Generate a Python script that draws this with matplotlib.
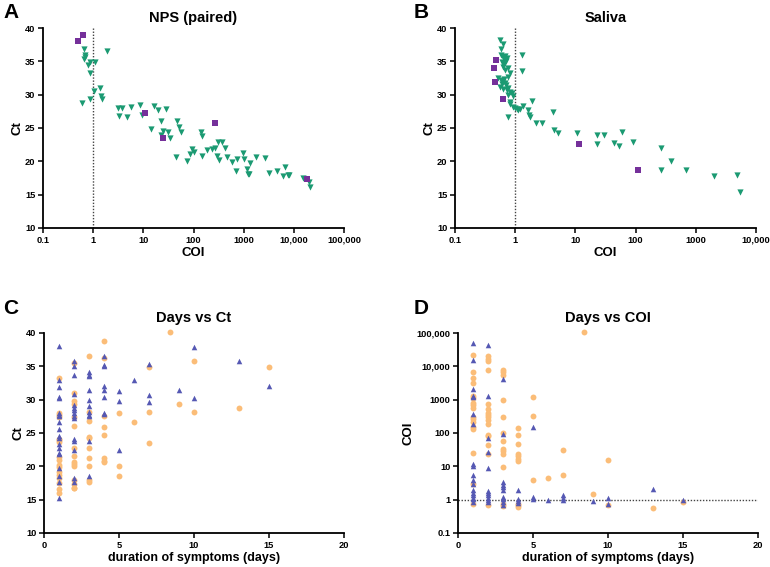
import matplotlib
matplotlib.use("Agg")
import matplotlib.pyplot as plt
import numpy as np
from matplotlib.ticker import FixedLocator, FixedFormatter, NullLocator

plt.rcParams['font.family'] = ['Liberation Sans', 'DejaVu Sans']
plt.rcParams['font.weight'] = 'bold'

# ---------------- Panel A: NPS (paired) ----------------
a_green_coi = [0.67, 1.89, 0.69, 0.69, 0.67, 0.88, 1.07, 0.80, 0.88, 1.03, 1.39, 1.43, 1.47, 0.60, 0.88,
               3.17, 3.81, 5.67, 8.57, 16.3, 19.3, 27.9, 3.32, 4.8, 9.6, 14.0, 22.5, 47.5, 51.4, 56.4,
               24.7, 31.5, 34.5, 23.0, 139, 146, 303, 365, 91.8, 102, 86.5, 186, 237, 268, 44.8, 74,
               146, 290, 322, 459, 420,
               577, 747, 955, 1000, 1337, 1738, 2661, 692, 1183, 1200, 1295, 3200, 4620, 6670, 6170,
               7530, 8110, 15400, 20300, 20900]
a_green_ct = [36.8, 36.5, 35.9, 35.65, 35.4, 34.9, 34.9, 34.4, 33.2, 30.6, 31.0, 29.8, 29.4, 28.8, 29.3,
              28.0, 28.0, 28.15, 28.45, 28.35, 27.75, 27.85, 26.85, 26.65, 26.95, 24.9, 26.05, 26.1, 25.15, 24.35,
              24.55, 24.35, 23.55, 24.0, 24.35, 23.75, 22.85, 22.85, 21.8, 21.35, 21.1, 21.75, 21.85, 22.05, 20.7, 20.1,
              20.8, 20.8, 20.2, 20.6, 22.0,
              19.97, 20.37, 21.3, 20.3, 19.7, 20.6, 20.55, 18.5, 18.85, 18.1, 18.1, 18.2, 18.5, 19.15, 17.85,
              18.0, 17.95, 17.5, 16.85, 16.15]
a_purple_coi = [0.50, 0.64, 10.8, 25.0, 263, 18200]
a_purple_ct = [38.05, 39.0, 27.2, 23.55, 25.75, 17.4]

# ---------------- Panel B: Saliva ----------------
b_green_coi = [0.56, 0.635, 0.574, 0.58, 0.635, 0.686, 0.72, 1.28, 0.596, 0.65, 0.62, 0.68, 0.77, 0.82,
               1.28, 0.525, 0.574, 0.635, 0.68, 0.70, 0.77, 0.72, 0.82, 0.873, 0.77, 0.93, 0.82, 0.81,
               0.93, 1.0, 1.06, 1.13, 1.2, 1.37, 1.88, 1.65, 1.76, 1.72, 2.21, 2.75, 0.77, 4.19,
               0.66, 0.70, 0.60, 0.64, 0.75, 0.55, 0.62,
               4.42, 5.21, 10.8, 23.1, 29.8, 60.3, 22.9, 43.8, 53.7, 91.6, 260, 392, 260, 697, 1980,
               4830, 5420]
b_green_ct = [38.26, 37.66, 36.92, 35.92, 35.67, 35.77, 35.57, 35.92, 34.92, 34.67, 34.18, 33.68, 33.93, 33.18,
              33.58, 32.43, 32.18, 32.08, 31.78, 31.43, 30.94, 30.69, 30.44, 30.19, 29.94, 29.79, 28.94, 28.6,
              28.1, 27.95, 27.8, 27.7, 27.9, 28.3, 29.1, 27.7, 26.7, 26.9, 25.8, 25.7, 26.6, 27.45,
              35.3, 35.0, 31.6, 32.4, 32.6, 31.2, 30.9,
              24.71, 24.31, 24.31, 24.0, 24.0, 24.36, 22.62, 22.7, 22.27, 22.97, 22.07, 19.98, 18.63, 18.73, 17.78,
              17.88, 15.44]
b_purple_coi = [0.48, 0.445, 0.46, 0.62, 11.6, 108]
b_purple_ct = [35.27, 34.0, 31.9, 29.35, 22.67, 18.68]

# ---------------- Panel C: Days vs Ct ----------------
c_blue_days = ([1] * 20 + [2] * 15 + [3] * 11 + [4] * 8 + [5] * 3 + [6] + [7] * 3 + [9] + [10] * 2 + [13] + [15])
c_blue_ct = [38.1, 33.0, 31.9, 30.4, 30.2, 28.0, 27.7, 27.5, 26.6, 25.6, 24.6, 24.3, 23.3, 22.7, 22.0, 21.8, 19.7, 18.5, 17.6, 15.2,
             35.85, 35.0, 33.75, 30.8, 29.2, 28.7, 28.4, 28.0, 27.6, 27.25, 24.1, 23.8, 22.5, 18.3, 17.6,
             34.2, 33.75, 33.5, 31.4, 30.0, 29.0, 28.2, 27.7, 27.6, 23.8, 18.6,
             36.6, 35.25, 35.0, 32.0, 31.5, 30.4, 28.0, 27.8,
             31.25, 29.75, 22.5,
             32.9,
             35.4, 30.7, 29.7,
             31.5,
             37.9, 30.3,
             35.75,
             32.0]
c_orange_days = ([1] * 17 + [2] * 15 + [3] * 10 + [4] * 8 + [5] * 3 + [6] + [7] * 3 + [8.4] + [9] + [10] * 2 + [13] + [15])
c_orange_ct = [33.2, 28.0, 27.7, 27.45, 24.1, 23.95, 23.7, 21.4, 21.0, 20.2, 19.95, 19.2, 18.7, 18.2, 17.45, 16.6, 16.0,
               35.5, 31.0, 29.8, 29.3, 27.45, 26.05, 22.7, 21.6, 20.7, 20.4, 20.0, 17.9, 17.4, 16.8, 16.7,
               36.6, 28.1, 26.8, 24.4, 24.2, 22.8, 21.3, 20.1, 18.0, 17.6,
               38.75, 36.3, 27.6, 25.9, 24.7, 21.2, 20.8, 20.6,
               28.0, 20.0, 18.6,
               26.6,
               34.85, 28.1, 23.5,
               40.2,
               29.4,
               35.75, 28.2,
               28.7,
               34.85]

# ---------------- Panel D: Days vs COI ----------------
d_blue_days = ([1] * 18 + [2] * 11 + [3] * 10 + [4] * 4 + [5] * 3 + [6] + [7] * 3 + [9] + [10] * 2 + [13] + [15])
d_blue_coi = [51000, 15000, 2100, 1300, 1200, 360, 190, 12, 10.5, 5.4, 3.8, 3.0, 1.9, 1.6, 1.35, 1.15, 1.05, 0.85,
              44700, 1290, 71, 27, 8.9, 1.8, 1.6, 1.35, 1.15, 0.95, 0.85,
              4270, 95, 3.4, 2.8, 2.4, 2.0, 1.2, 1.07, 0.85, 0.68,
              2.0, 1.05, 0.92, 0.8,
              150, 1.2, 1.05,
              0.98,
              1.35, 1.15, 1.0,
              0.92,
              1.15, 0.76,
              2.1,
              1.0]
d_orange_days = ([1] * 17 + [2] * 16 + [3] * 13 + [4] * 10 + [5] * 3 + [6] + [7] * 2 + [8.4] + [9] + [10] * 2 + [13] + [15])
d_orange_coi = [21400, 6800, 4500, 3100, 1300, 1100, 800, 680, 560, 300, 260, 220, 150, 130, 25, 3.0, 0.75,
                20000, 17000, 14000, 8000, 720, 510, 410, 350, 300, 250, 180, 90, 80, 45, 24, 0.68,
                8000, 6800, 5600, 980, 300, 100, 56, 32, 28, 24, 9.3, 0.75, 0.65,
                145, 88, 46, 24, 20, 17, 14, 0.76, 0.68, 0.6,
                1200, 320, 3.8,
                4.6,
                30, 5.6,
                108000,
                1.5,
                16, 0.7,
                0.58,
                0.85]

GREEN = '#1b9a72'
PURPLE = '#75309a'
BLUE = '#5558b3'
ORANGE = '#fbbd78'

fig = plt.figure(figsize=(7.7, 5.67), dpi=100)
W, H = 770, 567

def add_ax(l, t, r, b):
    return fig.add_axes([l / W, 1 - b / H, (r - l) / W, (b - t) / H])

def style(ax):
    for s in ['top', 'right']:
        ax.spines[s].set_visible(False)
    for s in ['left', 'bottom']:
        ax.spines[s].set_linewidth(1.3)
    ax.tick_params(axis='both', which='major', length=3.5, width=1.1, labelsize=6.7, pad=2)
    ax.tick_params(axis='both', which='minor', length=0)
    for lab in ax.get_xticklabels() + ax.get_yticklabels():
        lab.set_fontweight('bold')

dec_labels = ['0.1', '1', '10', '100', '1000', '10,000', '100,000']
dec_vals = [0.1, 1, 10, 100, 1000, 10000, 100000]

# Panel A
axA = add_ax(43, 28, 344, 228)
axA.set_xscale('log')
axA.set_xlim(0.1, 100000)
axA.set_ylim(10, 40)
axA.axvline(1, color='#444444', ls=(0, (1, 1.2)), lw=1.0, zorder=1)
axA.scatter(a_green_coi, a_green_ct, marker='v', s=20, color=GREEN, lw=0, zorder=3, clip_on=False)
axA.scatter(a_purple_coi, a_purple_ct, marker='s', s=20, color=PURPLE, lw=0, zorder=4, clip_on=False)
axA.xaxis.set_major_locator(FixedLocator(dec_vals))
axA.xaxis.set_major_formatter(FixedFormatter(dec_labels))
axA.xaxis.set_minor_locator(NullLocator())
axA.set_yticks([10, 15, 20, 25, 30, 35, 40])
axA.set_title('NPS (paired)', fontsize=10.5, fontweight='bold', pad=4)
axA.set_xlabel('COI', fontsize=9.5, fontweight='bold', labelpad=2)
axA.set_ylabel('Ct', fontsize=9.5, fontweight='bold', labelpad=1)
style(axA)

# Panel B
axB = add_ax(455, 28, 756, 228)
axB.set_xscale('log')
axB.set_xlim(0.1, 10000)
axB.set_ylim(10, 40)
axB.axvline(1, color='#444444', ls=(0, (1, 1.2)), lw=1.0, zorder=1)
axB.scatter(b_green_coi, b_green_ct, marker='v', s=20, color=GREEN, lw=0, zorder=3, clip_on=False)
axB.scatter(b_purple_coi, b_purple_ct, marker='s', s=20, color=PURPLE, lw=0, zorder=4, clip_on=False)
axB.xaxis.set_major_locator(FixedLocator(dec_vals[:6]))
axB.xaxis.set_major_formatter(FixedFormatter(dec_labels[:6]))
axB.xaxis.set_minor_locator(NullLocator())
axB.set_yticks([10, 15, 20, 25, 30, 35, 40])
axB.set_title('Saliva', fontsize=10.5, fontweight='bold', pad=4)
axB.set_xlabel('COI', fontsize=9.5, fontweight='bold', labelpad=2)
axB.set_ylabel('Ct', fontsize=9.5, fontweight='bold', labelpad=1)
style(axB)

# Panel C
axC = add_ax(44, 333, 344, 533)
axC.set_xlim(0, 20)
axC.set_ylim(10, 40)
axC.scatter(c_orange_days, c_orange_ct, marker='o', s=18, color=ORANGE, lw=0, zorder=3, clip_on=False)
axC.scatter(c_blue_days, c_blue_ct, marker='^', s=16, color=BLUE, lw=0, zorder=4, clip_on=False)
axC.set_xticks([0, 5, 10, 15, 20])
axC.set_yticks([10, 15, 20, 25, 30, 35, 40])
axC.set_title('Days vs Ct', fontsize=10.5, fontweight='bold', pad=8)
axC.set_xlabel('duration of symptoms (days)', fontsize=9, fontweight='bold', labelpad=2)
axC.set_ylabel('Ct', fontsize=9.5, fontweight='bold', labelpad=1)
style(axC)

# Panel D
axD = add_ax(458, 333, 758, 533)
axD.set_yscale('log')
axD.set_xlim(0, 20)
axD.set_ylim(0.1, 100000)
axD.axhline(1, color='#444444', ls=(0, (1, 1.2)), lw=1.0, zorder=1)
axD.scatter(d_orange_days, d_orange_coi, marker='o', s=18, color=ORANGE, lw=0, zorder=3, clip_on=False)
axD.scatter(d_blue_days, d_blue_coi, marker='^', s=16, color=BLUE, lw=0, zorder=4, clip_on=False)
axD.set_xticks([0, 5, 10, 15, 20])
axD.yaxis.set_major_locator(FixedLocator(dec_vals))
axD.yaxis.set_major_formatter(FixedFormatter(dec_labels))
axD.yaxis.set_minor_locator(NullLocator())
axD.set_title('Days vs COI', fontsize=10.5, fontweight='bold', pad=8)
axD.set_xlabel('duration of symptoms (days)', fontsize=9, fontweight='bold', labelpad=2)
axD.set_ylabel('COI', fontsize=9.5, fontweight='bold', labelpad=1)
style(axD)

# Panel letters
for letter, x, y in [('A', 3, 12), ('B', 414, 12), ('C', 3, 309), ('D', 414, 309)]:
    fig.text(x / W, 1 - y / H, letter, fontsize=15, fontweight='bold', ha='left', va='center')

fig.savefig('out.png', dpi=100)
